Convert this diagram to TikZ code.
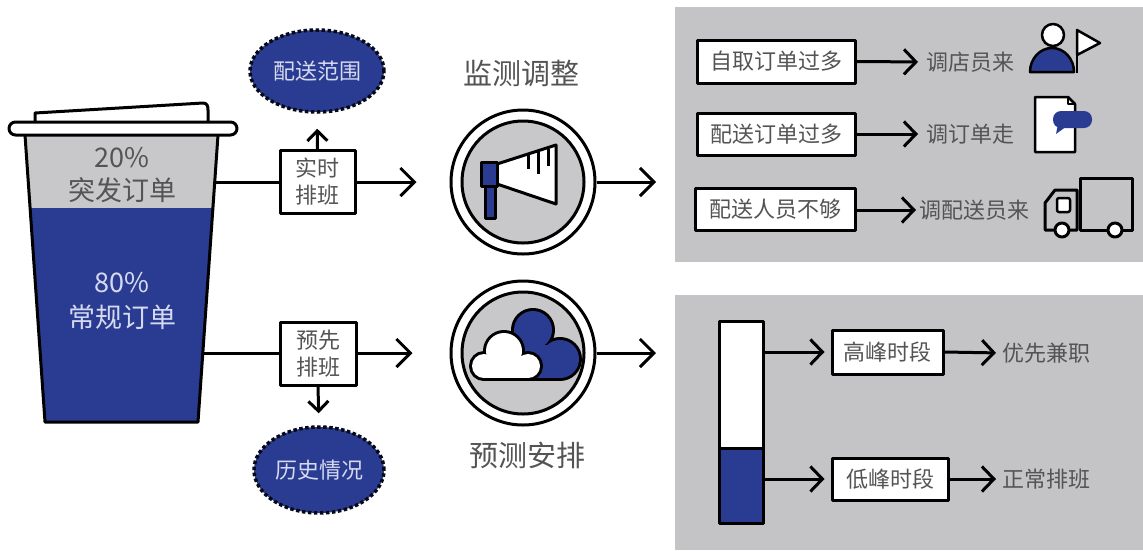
\documentclass[tikz,border=0pt]{standalone}
\usepackage{fontspec}
\setmainfont{Noto Sans CJK SC}
\usetikzlibrary{arrows.meta,shapes.geometric}
\definecolor{navy}{RGB}{42,60,145}
\definecolor{panelgray}{RGB}{196,196,198}
\definecolor{cupgray}{RGB}{200,200,202}
\definecolor{txt}{RGB}{84,84,84}
\definecolor{lav}{RGB}{214,218,240}
\begin{document}
\begin{tikzpicture}[x=1pt,y=-1pt,line join=round,
  thick3/.style={line width=3pt},
  bigarr/.style={thick3,-{Straight Barb[length=14pt,width=28pt]}},
  smallarr/.style={thick3,-{Straight Barb[length=10pt,width=20pt]}},
  midarr/.style={thick3,-{Straight Barb[length=12pt,width=25pt]}},
  tbox/.style={draw,thick3,fill=white,text=txt,inner sep=0pt,
    font=\fontsize{22}{27}\selectfont,align=center},
  oval/.style={ellipse,draw=black!85!navy,fill=navy,line width=3.5pt,
    dash pattern=on 3.5pt off 2.5pt,inner sep=0pt,text=lav,
    font=\fontsize{22}{26}\selectfont},
  label/.style={text=txt,inner sep=0pt,font=\fontsize{22}{26}\selectfont},
  title/.style={text=txt,inner sep=0pt,font=\fontsize{29}{34}\selectfont},
  ring/.style={circle,draw,thick3,minimum size=144pt,inner sep=0pt},
  panel/.style={fill=panelgray,inner sep=0pt,anchor=north west}]
\useasboundingbox (0,0) rectangle (1143,550);

% ---------- cup ----------
\fill[cupgray] (25,135) -- (218,135) -- (212.9,208) -- (30.1,208) -- cycle;
\fill[navy] (30.1,208) -- (212.9,208) -- (198,422) -- (45,422) -- cycle;
\draw[thick3] (25,135) -- (45,422) -- (198,422) -- (218,135);
\draw[thick3,fill=white] (35,124) -- (35,113) -- (203,103)
  .. controls (207,103) and (208,106) .. (208,110) -- (208,124);
\draw[thick3,fill=white,rounded corners=6.5pt] (9,122) rectangle (237,135);
\node[text=txt,font=\fontsize{27}{30}\selectfont] (p20) at (122,158) {20\%};
\node[text=txt,font=\fontsize{27}{30}\selectfont] (k20) at (122,190) {突发订单};
\node[text=lav,font=\fontsize{27}{30}\selectfont] (p80) at (122,283) {80\%};
\node[text=lav,font=\fontsize{27}{30}\selectfont] (k80) at (122,317) {常规订单};
\coordinate (cupA) at (215,182);
\coordinate (cupB) at (203,353);

% ---------- scheduling boxes and ovals ----------
\node[tbox,minimum width=75pt,minimum height=63pt] (rt) at (317.5,182) {实时\\排班};
\node[tbox,minimum width=76pt,minimum height=63pt] (pre) at (318,353.5) {预先\\排班};
\node[oval,minimum width=134pt,minimum height=82pt] (range) at (317,71) {配送范围};
\node[oval,minimum width=130pt,minimum height=86pt] (hist) at (319,470) {历史情况};

\draw[thick3] (cupA) -- (rt.west);
\draw[thick3] (cupB) -- (pre.west |- cupB);
\draw[smallarr,shorten >=15pt] (rt.north) -- (range.south);
\draw[smallarr,shorten >=12pt] (pre.south) -- (hist.north);

% ---------- round icons ----------
\node[ring] (mon) at (523,182) {};
\node[ring] (fc) at (523,353) {};
\fill[cupgray] (mon.center) circle (61);
\draw[thick3] (mon.center) circle (61);
\fill[cupgray] (fc.center) circle (61);
\draw[thick3] (fc.center) circle (61);
\node[title] (tmon) at (521,73) {监测调整};
\node[title] (tfc) at (527,455) {预测安排};

\draw[bigarr,shorten >=33pt] (rt.east) -- (mon.center -| mon.west);
\draw[bigarr,shorten >=37pt] (pre.east |- fc.center) -- (fc.west);

% megaphone
\draw[thick3,fill=white] (497,164) -- (556,145) -- (556,204) -- (497,184) -- cycle;
\draw[thick3] (528,155) -- (528,169);
\draw[thick3] (538,152) -- (538,174);
\draw[thick3] (548,149) -- (548,166);
\draw[thick3,fill=navy] (485,185) rectangle (495,218);
\draw[thick3,fill=navy] (481,162) rectangle (497,186);

% clouds (outline first, then fill to merge the bumps)
\begin{scope}[line width=6pt]
  \draw (533,330) circle (19);
  \draw (560,359) circle (19);
  \draw (520,345) rectangle (560,378);
  \fill[navy] (533,330) circle (19);
  \fill[navy] (560,359) circle (19);
  \fill[navy] (520,345) rectangle (560,378);
  \draw (504,351) circle (18);
  \draw (484,366) circle (12);
  \draw (528,366) circle (12);
  \draw (484,356) rectangle (528,378);
  \fill[white] (504,351) circle (18);
  \fill[white] (484,366) circle (12);
  \fill[white] (528,366) circle (12);
  \fill[white] (484,356) rectangle (528,378);
\end{scope}

% ---------- right panels ----------
\node[panel,minimum width=468pt,minimum height=255pt] (ptop) at (675,7) {};
\node[panel,minimum width=468pt,minimum height=255pt] (pbot) at (675,295) {};

\draw[bigarr,shorten >=19pt] (mon.east) -- (mon.east -| ptop.west);
\draw[bigarr,shorten >=19pt] (fc.east) -- (fc.east -| pbot.west);

% upper panel rows
\node[tbox,minimum width=158pt,minimum height=43pt] (b1) at (776,61.5) {自取订单过多};
\node[tbox,minimum width=158pt,minimum height=42pt] (b2) at (776,134) {配送订单过多};
\node[tbox,minimum width=160pt,minimum height=42pt] (b3) at (775,209) {配送人员不够};
\node[label,anchor=west] (r1) at (926,62) {调店员来};
\node[label,anchor=west] (r2) at (926,134) {调订单走};
\node[label,anchor=west] (r3) at (919,210) {调配送员来};
\draw[midarr,shorten >=8pt] (b1.east) -- (r1.west);
\draw[midarr,shorten >=8pt] (b2.east) -- (r2.west);
\draw[midarr,shorten >=3pt] (b3.east |- r3.west) -- (r3.west);

% person with flag
\draw[line width=2.5pt,fill=navy] (1030,72) arc[start angle=180,end angle=360,x radius=22,y radius=24] -- cycle;
\draw[line width=2.5pt,fill=white] (1053,35) circle (11);
\draw[line width=2.5pt] (1077,73) -- (1077,29);
\draw[line width=2.5pt,fill=white] (1077,30) -- (1100,43) -- (1077,55) -- cycle;

% document with speech bubble
\draw[line width=2.5pt,fill=white] (1035,97) -- (1068,97) -- (1075,104) -- (1075,152) -- (1035,152) -- cycle;
\draw[line width=1.5pt] (1068,97) -- (1068,104) -- (1075,104);
\fill[navy,rounded corners=8pt] (1053,111) rectangle (1092,128);
\fill[navy] (1058,124) -- (1056,134) -- (1067,126) -- cycle;

% truck
\draw[thick3] (1080,178) rectangle (1132,230);
\draw[thick3] (1077,230) -- (1077,190) -- (1055,190) -- (1045,203) -- (1045,230) -- cycle;
\draw[line width=2.5pt,fill=white,rounded corners=2pt] (1057,198) rectangle (1070,212);
\draw[thick3,fill=white] (1062,230) circle (7);
\draw[thick3,fill=white] (1115,230) circle (7);

% lower panel: time bar and rows
\node[draw,thick3,fill=white,inner sep=0pt,anchor=north west,
  minimum width=44pt,minimum height=127pt] (hi) at (718,320) {};
\node[draw,thick3,fill=navy,inner sep=0pt,anchor=north west,
  minimum width=44pt,minimum height=75pt] (lo) at (718,447) {};
\node[tbox,minimum width=111pt,minimum height=44pt] (gf) at (887.5,352) {高峰时段};
\node[tbox,minimum width=116pt,minimum height=42pt] (df) at (890,479) {低峰时段};
\node[label,anchor=west] (yx) at (1002,353) {优先兼职};
\node[label,anchor=west] (zc) at (1002,479) {正常排班};
\draw[midarr,shorten >=6pt] (hi.east |- gf.west) -- (gf.west);
\draw[midarr,shorten >=6pt] (lo.east |- df.west) -- (df.west);
\draw[midarr,shorten >=6pt] (gf.east) -- (yx.west);
\draw[midarr,shorten >=6pt] (df.east) -- (zc.west);
\end{tikzpicture}
\end{document}
